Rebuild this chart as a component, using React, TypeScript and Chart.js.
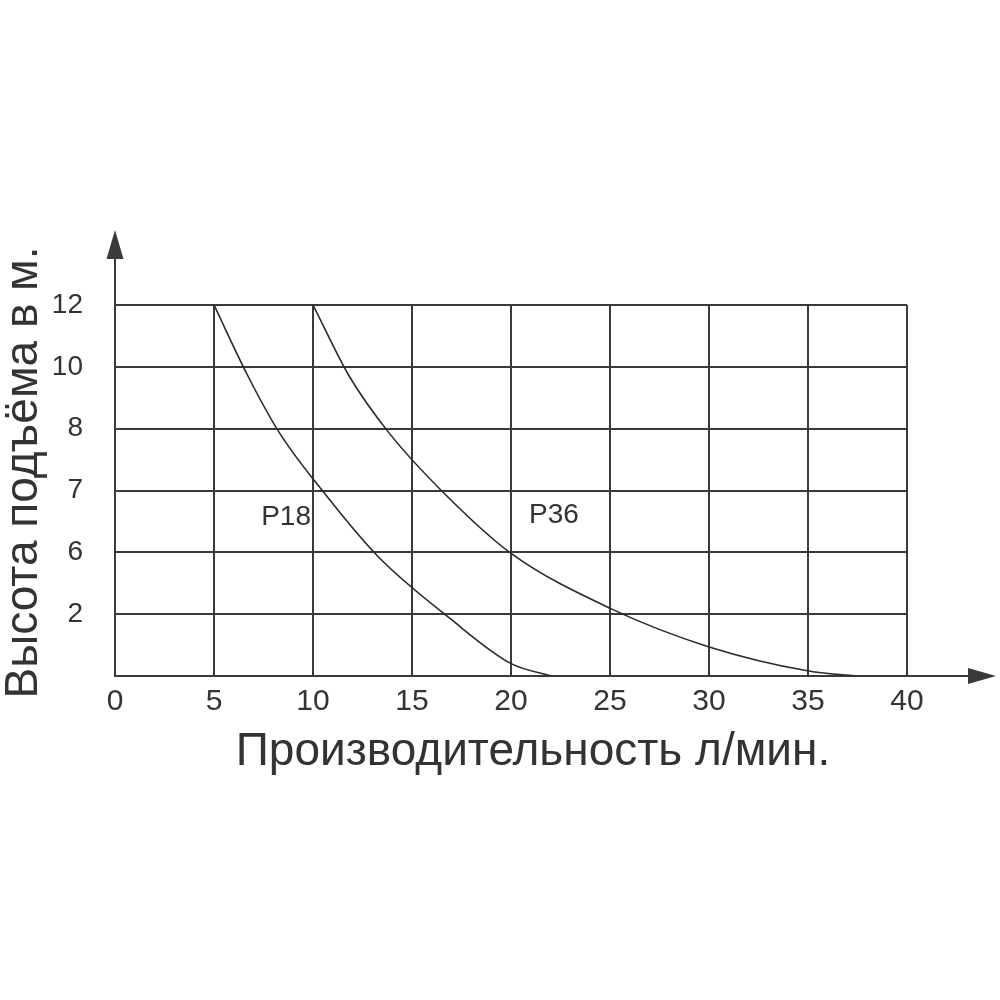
import React, { useEffect, useRef } from "react";
import { Chart, registerables } from "chart.js";

Chart.register(...registerables);

// ---- data ----
const xTickValues = [0, 5, 10, 15, 20, 25, 30, 35, 40];
// y grid is drawn at evenly spaced index positions 0..6 labelled as below
const yTickLabels = ["", "2", "6", "7", "8", "10", "12"];
const seriesNames = ["P18", "P36"];
const p18X = [5, 6.7, 8.29, 10.64, 13.32, 16.92, 20.01, 22.03];
const p18Y = [6, 4.86, 3.94, 2.93, 1.92, 0.93, 0.2, 0];
const p36X = [10, 11.81, 13.82, 16.67, 20.02, 25.04, 30.01, 35.04, 37.4];
const p36Y = [6, 4.86, 3.94, 2.94, 1.98, 1.09, 0.47, 0.08, 0];
const xTitle = "Производительность л/мин.";
const yTitle = "Высота подъёма в м.";
// label anchors (text baseline) in data units
const seriesLabelX = [8.64, 22.17];
const seriesLabelY = [2.44, 2.47];

const FONT = "'Liberation Sans', Arial, Helvetica, sans-serif";
const INK = "#333333";
const GRID = "#3a3a3a";

const decorPlugin = {
  id: "decor",
  afterDraw(chart: any) {
    const { ctx, chartArea, scales } = chart;
    const { left, right, top, bottom } = chartArea;
    ctx.save();
    ctx.strokeStyle = GRID;
    ctx.fillStyle = GRID;
    ctx.lineWidth = 2;
    // y axis arrow
    ctx.beginPath();
    ctx.moveTo(left, top);
    ctx.lineTo(left, top - 47);
    ctx.stroke();
    ctx.beginPath();
    ctx.moveTo(left, top - 75);
    ctx.lineTo(left - 8.5, top - 46);
    ctx.lineTo(left + 8.5, top - 46);
    ctx.closePath();
    ctx.fill();
    // x axis arrow
    ctx.beginPath();
    ctx.moveTo(right, bottom);
    ctx.lineTo(right + 62, bottom);
    ctx.stroke();
    ctx.beginPath();
    ctx.moveTo(right + 89, bottom);
    ctx.lineTo(right + 61, bottom - 8);
    ctx.lineTo(right + 61, bottom + 8);
    ctx.closePath();
    ctx.fill();

    // series labels
    ctx.fillStyle = INK;
    ctx.font = `28px ${FONT}`;
    ctx.textAlign = "center";
    ctx.textBaseline = "alphabetic";
    seriesNames.forEach((name, i) => {
      const px = scales.x.getPixelForValue(seriesLabelX[i]);
      const py = scales.y.getPixelForValue(seriesLabelY[i]);
      ctx.fillText(name, px, py);
    });

    // axis titles
    ctx.font = `46px ${FONT}`;
    ctx.textBaseline = "alphabetic";
    ctx.textAlign = "center";
    ctx.fillText(xTitle, (left + right) / 2 + 22, bottom + 89);
    ctx.save();
    ctx.translate(left - 78, (top + bottom) / 2 - 18);
    ctx.rotate(-Math.PI / 2);
    ctx.fillText(yTitle, 0, 0);
    ctx.restore();
    ctx.restore();
  },
};

export default function App() {
  const canvasRef = useRef<HTMLCanvasElement | null>(null);

  useEffect(() => {
    const canvas = canvasRef.current;
    if (!canvas) return;
    const mk = (xs: number[], ys: number[]) => xs.map((x, i) => ({ x, y: ys[i] }));
    const lineStyle = {
      borderColor: "#2a2a2a",
      borderWidth: 1.6,
      pointRadius: 0,
      cubicInterpolationMode: "monotone" as const,
      fill: false,
    };
    const chart = new Chart(canvas, {
      type: "line",
      data: {
        datasets: [
          { label: seriesNames[0], data: mk(p18X, p18Y), ...lineStyle },
          { label: seriesNames[1], data: mk(p36X, p36Y), ...lineStyle },
        ],
      },
      options: {
        animation: false,
        responsive: false,
        devicePixelRatio: 1,
        layout: { padding: { left: 0, top: 305, right: 93, bottom: 264 } },
        plugins: {
          legend: { display: false },
          tooltip: { enabled: false },
        },
        scales: {
          x: {
            type: "linear",
            min: 0,
            max: 40,
            afterBuildTicks: (scale: any) => {
              scale.ticks = xTickValues.map((v) => ({ value: v }));
            },
            afterFit: (scale: any) => {
              scale.height = 60;
            },
            grid: { color: GRID, lineWidth: 2, drawTicks: false },
            border: { display: true, color: GRID, width: 2 },
            ticks: {
              color: INK,
              font: { family: FONT, size: 30 },
              padding: 8,
              maxRotation: 0,
              autoSkip: false,
            },
          },
          y: {
            type: "linear",
            min: 0,
            max: 6,
            afterBuildTicks: (scale: any) => {
              scale.ticks = yTickLabels.map((_, i) => ({ value: i }));
            },
            afterFit: (scale: any) => {
              scale.width = 115;
            },
            grid: { color: GRID, lineWidth: 2, drawTicks: false },
            border: { display: true, color: GRID, width: 2 },
            ticks: {
              color: INK,
              font: { family: FONT, size: 28 },
              padding: 32,
              autoSkip: false,
              callback: (v: any) => yTickLabels[Math.round(Number(v))] ?? "",
            },
          },
        },
      },
      plugins: [decorPlugin],
    });
    return () => chart.destroy();
  }, []);

  return (
    <div style={{ position: "absolute", left: 0, top: 0, width: 1000, height: 1000, background: "#fff" }}>
      <canvas ref={canvasRef} width={1000} height={1000} />
    </div>
  );
}
